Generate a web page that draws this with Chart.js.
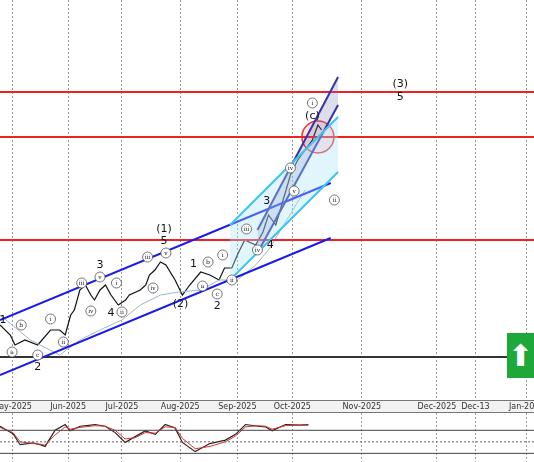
<!DOCTYPE html>
<html>
<head>
<script src="https://cdn.jsdelivr.net/npm/chart.js@4"></script>
<style>
body{margin:0;background:#fff;font-family:"DejaVu Sans",sans-serif;overflow:hidden}
#wrap{position:relative;width:534px;height:462px}
#main{position:absolute;left:0;top:0}
#rsi{position:absolute;left:0;top:413px}
#up{position:absolute;left:507px;top:333px;width:27px;height:45px;background:#1fa83a;color:#fff;font-size:30px;line-height:45px;text-align:center}
</style>
</head>
<body>
<div id="wrap">
<canvas id="main" width="534" height="413"></canvas>
<canvas id="rsi" width="534" height="49"></canvas>
<div id="up">&#11014;</div>
</div>
<script>
// x = days from 1 May 2025 (future axis is compressed like the source), y = price units
const tickPos = [0, 30.6, 60, 91.8, 123, 153, 191, 232, 253, 281];
const tickText = ['May-2025','Jun-2025','Jul-2025','Aug-2025','Sep-2025','Oct-2025','Nov-2025','Dec-2025','Dec-13','Jan-2025'];

const priceDays = [-6.6,-1,1.6,7,14,21,26,29,32,34,37,40,43,45,48,51,54,58,62,64,70,73,75,78,81,84,89,93,97,103,108,113,116,120,123,127,133,137,140,144,148,152,156,160,164,167,169];
const priceVals = [75,65,55,60,55,70,70,65,85,90,110,115,105,100,110,115,105,95,100,105,110,115,125,130,138,135,120,105,115,128,125,120,132,132,145,160,155,168,185,175,200,225,240,250,260,275,270];

const bandDays = [-6.6,10,26,37,48,60,70,81,91,103,113,123,133,140,150,160];
const bandVals = [85,60,45,60,70,80,95,105,108,110,120,120,135,150,180,210];

const redLevels = [308, 263, 160];
const blackLevel = 43;

const chanUpper = [[-6.6,80],[174,217]];
const chanLower = [[-6.6,25],[174,162]];
const navyA = [[134,170],[178,323]];
const navyB = [[134,147],[178,295]];
const cyanA = [[119,175],[178,283]];
const cyanB = [[119,120],[178,228]];
const circleAt = [[167,263]];

// wave labels: day, price, text, circled
const waves = [
 [-5,80,'1',0],[5,75,'b',1],[0,48,'a',1],[14,45,'c',1],[14,33,'2',0],
 [21,81,'i',1],[28,58,'ii',1],[38,117,'iii',1],[48,123,'v',1],[43,89,'iv',1],
 [48,135,'3',0],[54,87,'4',0],[57,117,'i',1],[60,88,'ii',1],[74,143,'iii',1],[77,112,'iv',1],
 [83,171,'(1)',0],[83,159,'5',0],[84,147,'v',1],[92,96,'(2)',0],[99,136,'1',0],
 [107,138,'b',1],[104,114,'a',1],[115,145,'i',1],[112,106,'c',1],[112,94,'2',0],[120,120,'ii',1],
 [128,171,'iii',1],[139,199,'3',0],[141,155,'4',0],[134,150,'iv',1],[152,232,'iv',1],[154,209,'v',1],
 [176,200,'ii',1],[164,284,'(c)',0],[164,297,'i',1],[212,316,'(3)',0],[212,303,'5',0]
];

const rsiDays = [-6.6,0.5,4.4,11.5,15.3,18,23.5,29,31.7,37.2,45.4,50.8,56.3,61.7,67.2,72.7,78.2,83.6,89,93,100,108,116.5,122,127.5,134.4,138.3,142,149.3,157.4,161.8];
const rsiBlack = [77,64,45,48,45,42,70,80,69,77,80,77,66,49,59,69,63,80,74,49,33,47,53,63,80,77,76,69,80,79,80,74];
const rsiRed = [75,66,50,47,46,44,62,76,72,75,78,77,70,55,57,66,65,76,75,56,38,42,50,60,76,78,77,72,78,79,79,76];

const pts = (xs, ys) => xs.map((x, i) => ({x, y: ys[i]}));
const seg = (a) => a.map(p => ({x: p[0], y: p[1]}));
const hline = (v) => [{x: -6.6, y: v}, {x: 285, y: v}];

const labelPlugin = {
  id: 'waves',
  afterDatasetsDraw(chart) {
    const c = chart.ctx, xs = chart.scales.x, ys = chart.scales.y;
    c.save();
    c.textAlign = 'center'; c.textBaseline = 'middle';
    waves.forEach(w => {
      const px = xs.getPixelForValue(w[0]), py = ys.getPixelForValue(w[1]);
      if (w[3]) {
        c.beginPath(); c.arc(px, py, 5, 0, Math.PI * 2);
        c.fillStyle = '#fff'; c.fill(); c.strokeStyle = '#555'; c.lineWidth = 0.8; c.stroke();
        c.fillStyle = '#222'; c.font = '6px "DejaVu Serif"';
      } else {
        c.fillStyle = '#111'; c.font = '11px "DejaVu Sans"';
      }
      c.fillText(w[2], px, py);
    });
    // date labels under the price pane
    const base = chart.chartArea.bottom;
    c.fillStyle = '#f2f2f2'; c.fillRect(0, base, chart.width, chart.height - base);
    c.strokeStyle = '#777'; c.lineWidth = 1;
    c.beginPath(); c.moveTo(0, base + 0.5); c.lineTo(chart.width, base + 0.5);
    c.moveTo(0, chart.height - 0.5); c.lineTo(chart.width, chart.height - 0.5); c.stroke();
    c.font = '8px "DejaVu Sans"'; c.fillStyle = '#333';
    tickPos.forEach((v, i) => c.fillText(tickText[i], xs.getPixelForValue(v), base + 7));
    c.restore();
  }
};

const xAxis = (h) => ({
  type: 'linear', min: -6.6, max: 285,
  afterBuildTicks: (ax) => { ax.ticks = tickPos.map(v => ({value: v})); },
  afterFit: (ax) => { ax.height = h; },
  ticks: {display: false},
  grid: {color: '#999', drawTicks: false},
  border: {display: false, dash: [2, 2]}
});

const line = (data, color, width, extra) => Object.assign({type: 'line', data, borderColor: color, borderWidth: width, pointRadius: 0, tension: 0, fill: false}, extra || {});

new Chart(document.getElementById('main'), {
  data: {datasets: [
    line(seg(cyanA), '#3ec3f5', 2),
    line(seg(cyanB), '#3ec3f5', 2, {fill: '-1', backgroundColor: 'rgba(170,225,250,0.35)'}),
    line(seg(navyA), '#3333aa', 2),
    line(seg(navyB), '#3333aa', 2, {fill: '-1', backgroundColor: 'rgba(120,120,180,0.25)'}),
    line(seg(chanUpper), '#1a1aee', 2),
    line(seg(chanLower), '#1a1aee', 2),
    ...redLevels.map(v => line(hline(v), '#ee2222', 2)),
    line(hline(blackLevel), '#333', 2),
    line(pts(bandDays, bandVals), '#9fb8c8', 1),
    line(pts(priceDays, priceVals), '#111', 1.2),
    {type: 'scatter', data: seg(circleAt), pointRadius: 16, borderColor: '#e33', borderWidth: 1.5, backgroundColor: 'rgba(255,80,80,0.15)'}
  ]},
  options: {
    responsive: false, animation: false,
    layout: {padding: 0, autoPadding: false},
    plugins: {legend: {display: false}, tooltip: {enabled: false}},
    scales: {
      x: xAxis(13),
      y: {min: 0, max: 400, display: false}
    }
  },
  plugins: [labelPlugin]
});

new Chart(document.getElementById('rsi'), {
  data: {datasets: [
    line(hline(70), '#444', 1),
    line(hline(50), '#666', 1, {borderDash: [2, 2]}),
    line(hline(30), '#444', 1),
    line(pts(rsiDays, rsiRed), '#d33', 1),
    line(pts(rsiDays, rsiBlack), '#222', 1.2)
  ]},
  options: {
    responsive: false, animation: false, layout: {padding: 0, autoPadding: false},
    plugins: {legend: {display: false}, tooltip: {enabled: false}},
    scales: {x: xAxis(0), y: {min: 15, max: 100, display: false}}
  }
});
</script>
</body>
</html>
